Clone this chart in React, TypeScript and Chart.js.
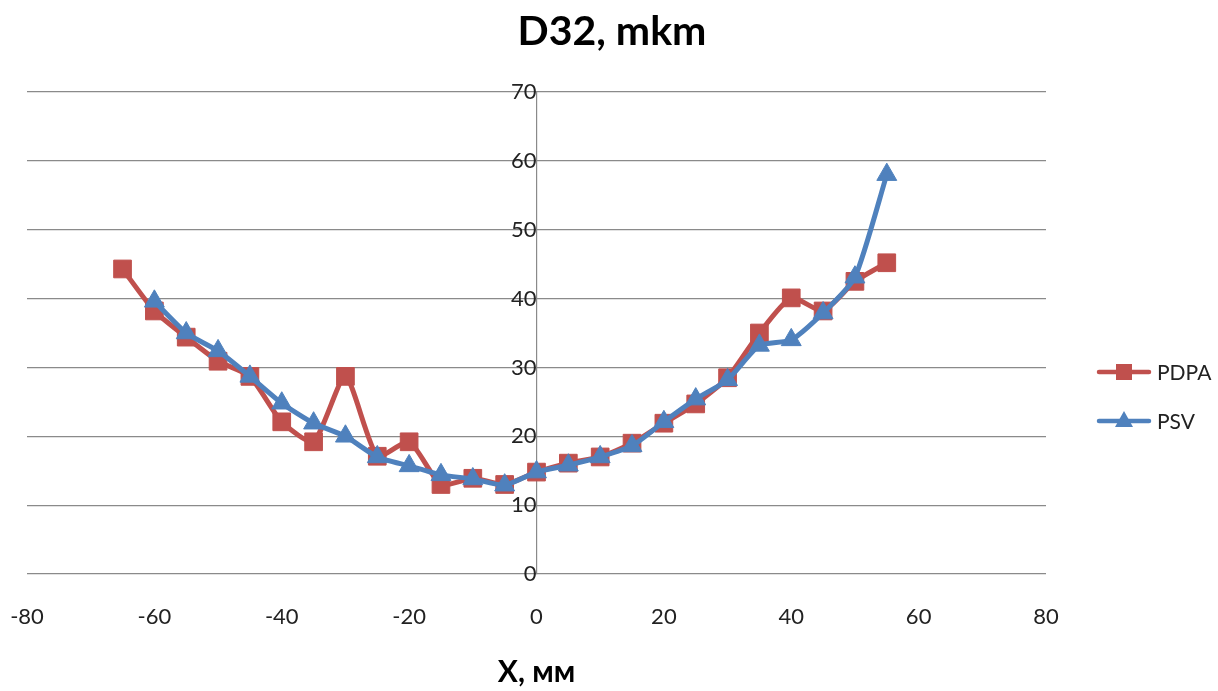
import React, { useEffect, useRef } from "react";
import { Chart, registerables } from "chart.js";

Chart.register(...registerables);

const xValues = [-65, -60, -55, -50, -45, -40, -35, -30, -25, -20, -15, -10, -5, 0, 5, 10, 15, 20, 25, 30, 35, 40, 45, 50, 55];
const pdpaValues = [44.3, 38.2, 34.4, 30.9, 28.7, 22.1, 19.2, 28.7, 17.1, 19.2, 13.0, 13.9, 13.0, 14.8, 16.1, 17.0, 19.0, 21.9, 24.7, 28.5, 35.0, 40.1, 38.2, 42.5, 45.2];
const psvX = [-60, -55, -50, -45, -40, -35, -30, -25, -20, -15, -10, -5, 0, 5, 10, 15, 20, 25, 30, 35, 40, 45, 50, 55];
const psvValues = [39.6, 35.0, 32.4, 28.7, 24.8, 21.9, 20.0, 17.0, 15.7, 14.4, 13.8, 12.9, 14.8, 15.8, 17.0, 18.6, 22.1, 25.4, 28.2, 33.2, 34.0, 37.9, 43.1, 58.0];

const seriesNames = ["PDPA", "PSV"];
const seriesColors = ["#C0504D", "#4F81BD"];
const chartTitle = "D32, mkm";
const xTitle = "X, мм";

const FONT = "Lato, 'Open Sans', sans-serif";

const decorPlugin = {
  id: "decor",
  afterDraw(chart: any) {
    const ctx = chart.ctx;
    const xs = chart.scales.x;
    ctx.save();
    ctx.fillStyle = "#000";
    ctx.textAlign = "center";
    ctx.textBaseline = "middle";
    ctx.font = `bold 41px ${FONT}`;
    ctx.fillText(chartTitle, 612, 32);
    ctx.font = `bold 30px ${FONT}`;
    ctx.fillText(xTitle, xs.getPixelForValue(0), 672);

    // legend
    const items = [
      { y: 372, color: seriesColors[0], style: "rect" },
      { y: 421, color: seriesColors[1], style: "triangle" },
    ];
    items.forEach((it, i) => {
      ctx.strokeStyle = it.color;
      ctx.fillStyle = it.color;
      ctx.lineWidth = 4.5;
      ctx.lineCap = "round";
      ctx.beginPath();
      ctx.moveTo(1099, it.y);
      ctx.lineTo(1149, it.y);
      ctx.stroke();
      ctx.beginPath();
      if (it.style === "rect") {
        ctx.rect(1116, it.y - 8, 16, 16);
      } else {
        ctx.moveTo(1124, it.y - 10);
        ctx.lineTo(1133, it.y + 6);
        ctx.lineTo(1115, it.y + 6);
        ctx.closePath();
      }
      ctx.fill();
      ctx.fillStyle = "#222";
      ctx.textAlign = "left";
      ctx.font = `21px ${FONT}`;
      ctx.fillText(seriesNames[i], 1157, it.y + 1);
    });
    ctx.restore();
  },
};

export default function App() {
  const ref = useRef<HTMLCanvasElement>(null);

  useEffect(() => {
    document.body.style.margin = "0";
    const canvas = ref.current;
    if (!canvas) return;
    const chart = new Chart(canvas, {
      type: "scatter",
      data: {
        datasets: [
          {
            label: seriesNames[0],
            data: xValues.map((x, i) => ({ x, y: pdpaValues[i] })),
            showLine: true,
            borderColor: seriesColors[0],
            backgroundColor: seriesColors[0],
            borderWidth: 5,
            tension: 0.2,
            pointStyle: "rect",
            pointRadius: 12.5,
            pointBorderWidth: 1,
            pointBackgroundColor: seriesColors[0],
            pointBorderColor: seriesColors[0],
            order: 1,
          },
          {
            label: seriesNames[1],
            data: psvX.map((x, i) => ({ x, y: psvValues[i] })),
            showLine: true,
            borderColor: seriesColors[1],
            backgroundColor: seriesColors[1],
            borderWidth: 5,
            tension: 0.2,
            pointStyle: "triangle",
            pointRadius: 11.5,
            pointBorderWidth: 1,
            pointBackgroundColor: seriesColors[1],
            pointBorderColor: seriesColors[1],
            order: 0,
          },
        ],
      },
      options: {
        responsive: false,
        animation: false,
        devicePixelRatio: 1,
        layout: { padding: { left: 27, right: 172, top: 92, bottom: 57 } },
        plugins: {
          legend: { display: false },
          title: { display: false },
          tooltip: { enabled: false },
        },
        scales: {
          x: {
            type: "linear",
            position: "bottom",
            min: -80,
            max: 80,
            afterFit: (s: any) => {
              s.height = 60;
              s.paddingLeft = 0;
              s.paddingRight = 0;
            },
            ticks: {
              stepSize: 20,
              padding: 30,
              color: "#222",
              font: { family: FONT, size: 22 },
            },
            grid: { display: false, drawTicks: false },
            border: { display: false },
          },
          y: {
            type: "linear",
            position: { x: 0 },
            min: 0,
            max: 70,
            ticks: {
              stepSize: 10,
              padding: 25,
              color: "#222",
              font: { family: FONT, size: 22 },
            },
            grid: { color: "#8a8a8a", lineWidth: 1.2, drawTicks: false },
            border: { display: true, color: "#8a8a8a", width: 1.2 },
          },
        },
      },
      plugins: [decorPlugin],
    } as any);
    return () => chart.destroy();
  }, []);

  return (
    <div style={{ position: "absolute", left: 0, top: 0, width: 1218, height: 691, background: "#fff" }}>
      <canvas ref={ref} width={1218} height={691} />
    </div>
  );
}
